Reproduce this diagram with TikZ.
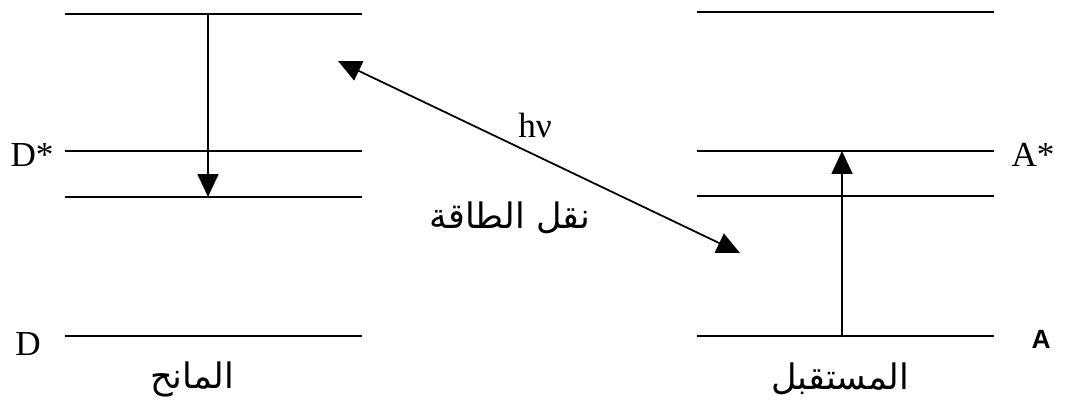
\documentclass[tikz,border=0pt]{standalone}
\usepackage{fontspec}
\setmainfont{Liberation Serif}
\newfontfamily\labelsans{Liberation Sans}
\newfontfamily\arabicfont[Script=Arabic]{DejaVu Sans}
\TeXXeTstate=1
\usetikzlibrary{arrows.meta}

\begin{document}
\begin{tikzpicture}[x=0.02cm, y=-0.02cm,
    level/.style={line width=1.2pt},
    jump/.style={line width=1pt, -{Triangle[length=0.46cm, width=0.42cm]}},
    state/.style={font=\fontsize{20}{22}\selectfont, inner sep=0pt},
    arab/.style={font=\arabicfont\fontsize{20}{24}\selectfont, inner sep=0pt}]
  \useasboundingbox (0,0) rectangle (1071,408);

  % Livelli del donatore
  \coordinate (DtopL) at (65,14);   \coordinate (DtopR) at (362,14);
  \coordinate (DexL)  at (65,151);  \coordinate (DexR)  at (362,151);
  \coordinate (DlowL) at (65,197);  \coordinate (DlowR) at (362,197);
  \coordinate (DgsL)  at (65,336);  \coordinate (DgsR)  at (362,336);

  % Livelli dell'accettore
  \coordinate (AtopL) at (697,12);  \coordinate (AtopR) at (994,12);
  \coordinate (AexL)  at (697,151); \coordinate (AexR)  at (994,151);
  \coordinate (AlowL) at (697,196); \coordinate (AlowR) at (994,196);
  \coordinate (AgsL)  at (697,336); \coordinate (AgsR)  at (994,336);

  \draw[level] (DtopL) -- (DtopR);
  \draw[level] (DexL)  -- (DexR);
  \draw[level] (DlowL) -- (DlowR);
  \draw[level] (DgsL)  -- (DgsR);
  \draw[level] (AtopL) -- (AtopR);
  \draw[level] (AexL)  -- (AexR);
  \draw[level] (AlowL) -- (AlowR);
  \draw[level] (AgsL)  -- (AgsR);

  % Transizioni verticali
  \coordinate (Dfrom) at (208,14);
  \coordinate (Dto)   at (208,197);
  \coordinate (Afrom) at (842,336);
  \coordinate (Ato)   at (842,151);
  \draw[jump] (Dfrom) -- (Dto);
  \draw[jump] (Afrom) -- (Ato);

  % Trasferimento di energia (doppia freccia)
  \coordinate (Tl) at (338,61);
  \coordinate (Tr) at (740,253);
  \draw[jump, {Triangle[length=0.46cm, width=0.42cm]}-{Triangle[length=0.46cm, width=0.42cm]}] (Tl) -- (Tr);

  % Etichette stati
  \node[state] (Dstar) at (32,155) {D*};
  \node[state] (Dgs)   at (28,344) {D};
  \node[state] (Astar) at (1033,155) {A*};
  \node[font=\labelsans\bfseries\fontsize{15}{17}\selectfont, inner sep=0pt] (Ags) at (1041,339) {A};

  % Etichette testo
  \node[state] (hnu) at (535,125) {hν};
  \node[arab] (transfer) at (510,218) {\beginR نقل الطاقة\endR};
  \node[arab] (donor)    at (192,379) {\beginR المانح\endR};
  \node[arab] (acceptor) at (840,379) {\beginR المستقبل\endR};
\end{tikzpicture}
\end{document}
